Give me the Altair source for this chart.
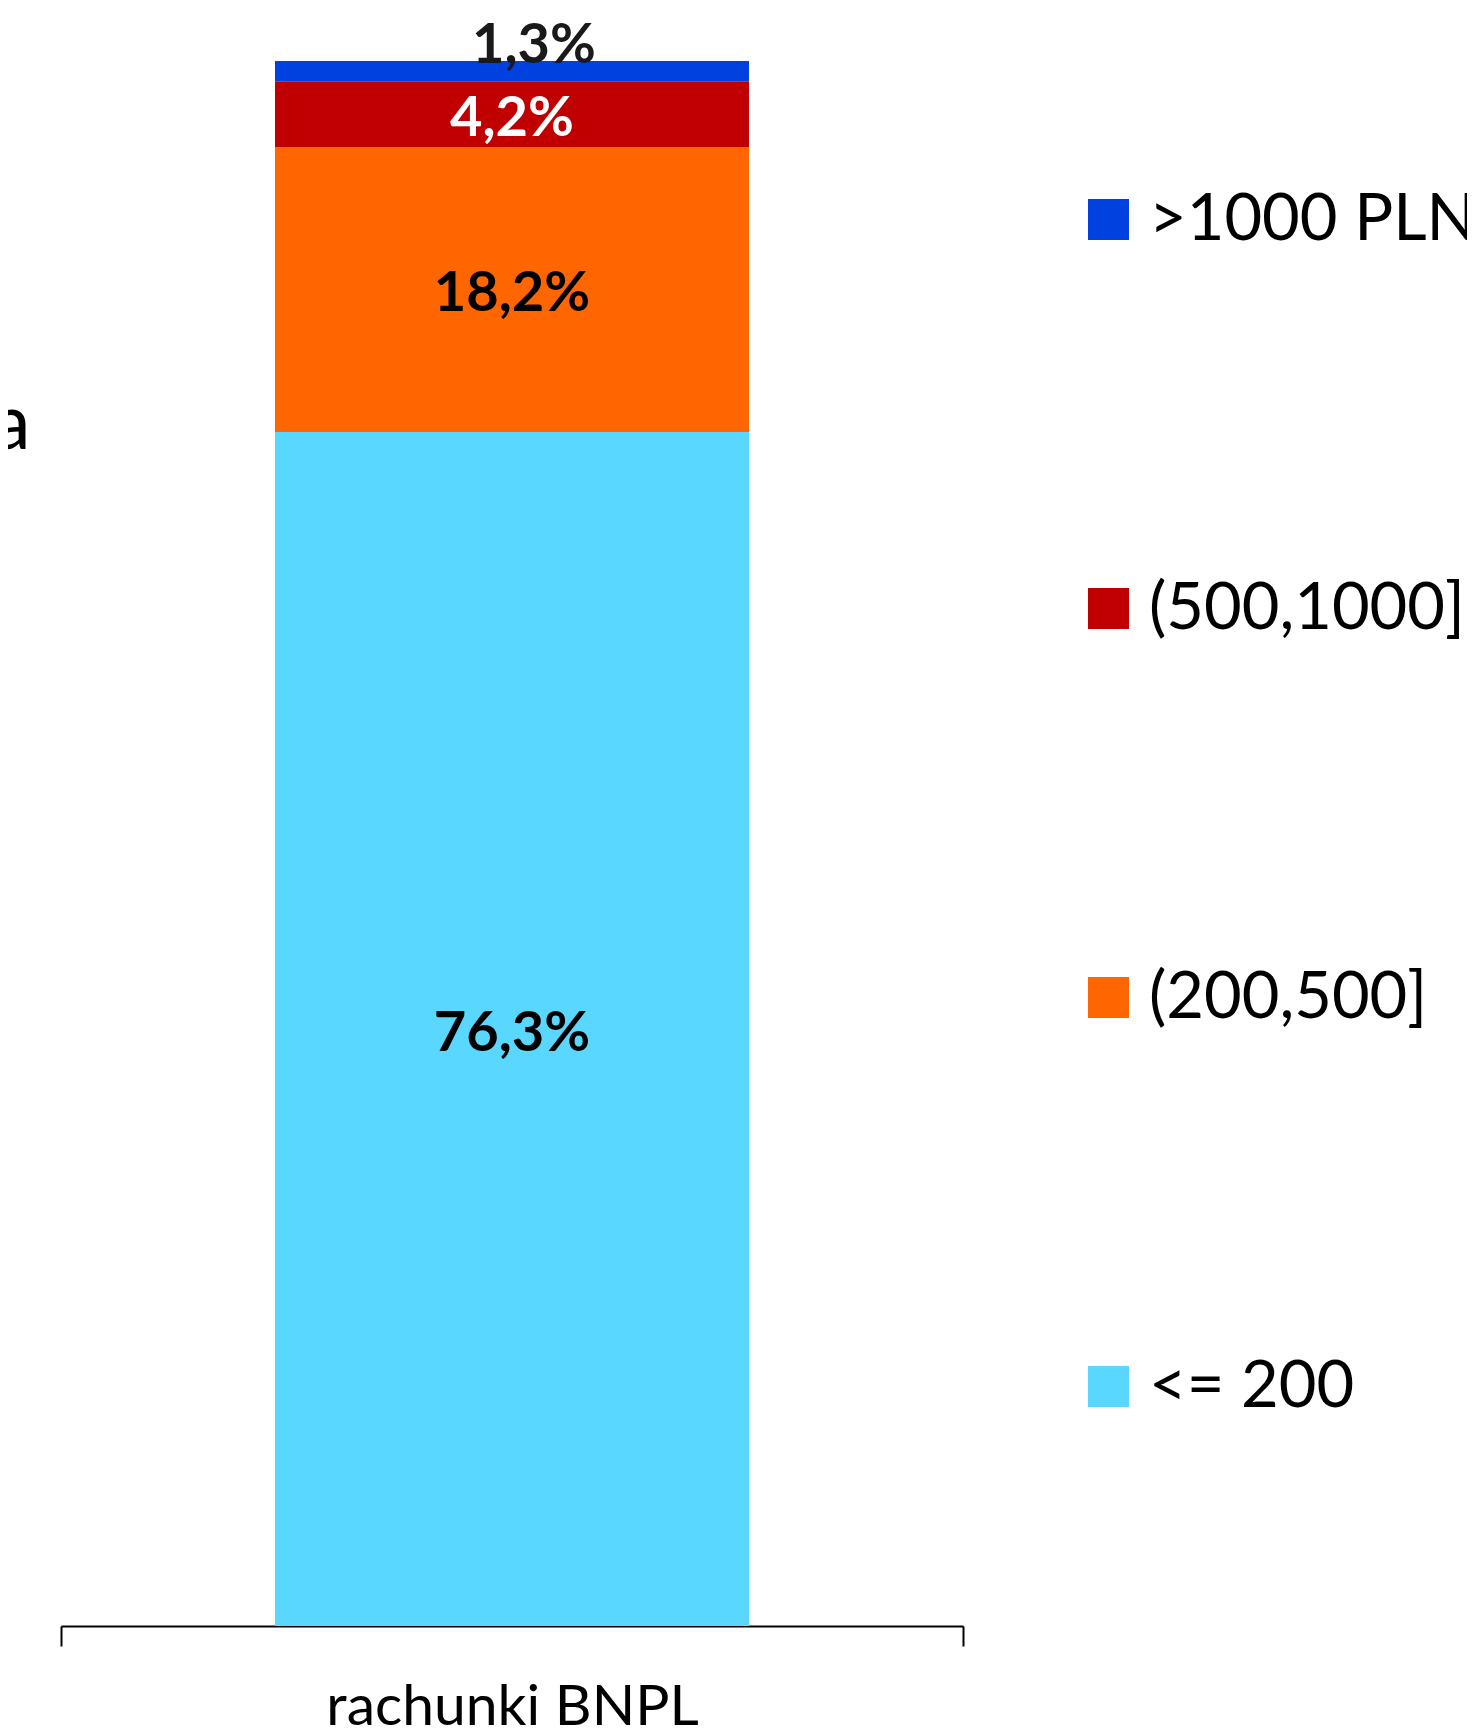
import altair as alt
import pandas as pd

group_label = "rachunki BNPL"
categories = ["<= 200", "(200,500]", "(500,1000]", ">1000 PLN"]
shares = [76.3, 18.2, 4.2, 1.3]
share_labels = ["76,3%", "18,2%", "4,2%", "1,3%"]
colors = ["#59D7FF", "#FF6600", "#C00000", "#0041E0"]
side_title = "a"

legend_order = categories[::-1]
legend_colors = colors[::-1]

df = pd.DataFrame({
    "grupa": [group_label] * len(categories),
    "przedzial": categories,
    "udzial": shares,
    "etykieta": share_labels,
    "kolejnosc": list(range(len(categories))),
})

FONT = "Lato"

x_enc = alt.X(
    "grupa:N",
    scale=alt.Scale(paddingInner=0, paddingOuter=0),
    axis=alt.Axis(
        title=None, labelAngle=0, domainColor="black", domainWidth=2,
        tickColor="black", tickWidth=2, tickSize=20, tickBand="extent",
        labelFontSize=57, labelFont=FONT, labelColor="black",
        labelBaseline="alphabetic", labelPadding=78, labelLimit=1000,
    ),
)

bars = alt.Chart(df).mark_bar(width=alt.RelativeBandSize(0.5255)).encode(
    x=x_enc,
    y=alt.Y(
        "udzial:Q", stack="zero",
        scale=alt.Scale(domain=[0, 100], nice=False),
        axis=alt.Axis(
            title=side_title, domain=False, labels=False, ticks=False, grid=False,
            titleAngle=0, titleX=-31, titleY=387, titleAlign="right",
            titleBaseline="alphabetic", titleFontSize=78, titleFont=FONT,
            titleFontWeight="normal", titleColor="black",
        ),
    ),
    color=alt.Color(
        "przedzial:N",
        scale=alt.Scale(domain=legend_order, range=legend_colors),
        legend=alt.Legend(
            title=None, orient="none", legendX=1015, legendY=126,
            symbolType="square", symbolSize=1681, symbolStrokeWidth=0,
            symbolOffset=0, labelFontSize=65, labelFont=FONT,
            labelColor="black", labelLimit=1000, rowPadding=323,
            padding=0, labelOffset=8,
        ),
    ),
    order=alt.Order("kolejnosc:Q", sort="ascending"),
)

stacked = alt.Chart(df).transform_stack(
    stack="udzial", groupby=["grupa"], as_=["y0", "y1"],
    sort=[alt.SortField("kolejnosc", order="ascending")],
).transform_calculate(mid="(datum.y0 + datum.y1) / 2")

inner_labels = stacked.transform_filter(
    alt.datum.przedzial != ">1000 PLN"
).mark_text(font=FONT, fontWeight="bold", fontSize=56, baseline="middle",
            dy=5).encode(
    x=alt.X("grupa:N"),
    y=alt.Y("mid:Q"),
    text="etykieta:N",
    color=alt.condition(alt.datum.przedzial == "(500,1000]",
                        alt.value("#FFFFFF"), alt.value("#000000")),
)

top_label = stacked.transform_filter(
    alt.datum.przedzial == ">1000 PLN"
).mark_text(font=FONT, fontWeight="bold", fontSize=56, baseline="middle",
            dx=22, dy=-25, color="#1a1a1a").encode(
    x=alt.X("grupa:N"),
    y=alt.Y("mid:Q"),
    text="etykieta:N",
)

chart = alt.layer(bars, inner_labels, top_label).properties(
    width=902, height=1565,
    autosize=alt.AutoSizeParams(type="none"),
    padding={"left": 53, "top": 53, "right": 504, "bottom": 99},
).configure(background="white").configure_view(stroke=None, strokeWidth=0)

chart.save("out.html", embed_options={"renderer": "svg", "actions": False})
